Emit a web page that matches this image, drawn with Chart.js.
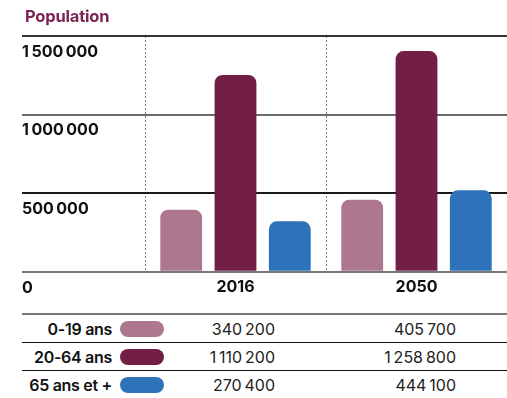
<!DOCTYPE html>
<html>
<head>
<meta charset="utf-8">
<script src="https://cdn.jsdelivr.net/npm/chart.js@4"></script>
<style>
  html, body { margin: 0; padding: 0; background: #fff; }
  #wrap { position: relative; width: 507px; height: 398px; overflow: hidden; font-family: Inter, "Noto Sans", sans-serif; }
  #title { position: absolute; left: 25px; top: 6px; font-size: 16.5px; font-weight: 700; color: #7b2453; letter-spacing: -0.2px; }
  #cv { position: absolute; left: 0; top: 0; }
  #tbl { position: absolute; left: 22px; top: 313px; width: 485px; }
  .row { position: relative; height: 27px; border-top: 1.5px solid #111; }
  .row.first { border-top: 2px solid #777; }
  .row.last { border-bottom: 2px solid #ccc; }
  .lab { position: absolute; left: 0; width: 90px; text-align: right; top: 4px; font-size: 16px; font-weight: 600; color: #111; letter-spacing: -0.3px; }
  .pill { position: absolute; left: 98px; top: 6px; width: 44px; height: 16px; border-radius: 8px; }
  .val { position: absolute; width: 140px; text-align: right; top: 4px; font-size: 16px; font-weight: 400; color: #222; letter-spacing: -0.3px; }
</style>
</head>
<body>
<div id="wrap">
  <canvas id="cv" width="507" height="307"></canvas>
  <div id="title">Population</div>
  <div id="tbl"></div>
</div>
<script>
// ---- data ----
const categories = ['2016', '2050'];
const groupLabels = ['0-19 ans', '20-64 ans', '65 ans et +'];
const groupColors = ['#ad788f', '#731f45', '#2e73b9'];
// bar heights as drawn in the picture (read against the axis)
const barYoung  = [395000, 459000];
const barAdult  = [1252000, 1404000];
const barSenior = [321000, 518000];
// values printed in the table
const tableYoung  = [340200, 405700];
const tableAdult  = [1110200, 1258800];
const tableSenior = [270400, 444100];
const yTicks = [0, 500000, 1000000, 1500000];

const fmt = v => String(v).replace(/\B(?=(\d{3})+(?!\d))/g, '\u202f');

const barSeries = [barYoung, barAdult, barSenior];
const tableSeries = [tableYoung, tableAdult, tableSenior];

// ---- table ----
const tbl = document.getElementById('tbl');
groupLabels.forEach((g, i) => {
  const row = document.createElement('div');
  row.className = 'row' + (i === 0 ? ' first' : '') + (i === groupLabels.length - 1 ? ' last' : '');
  const lab = document.createElement('div');
  lab.className = 'lab'; lab.textContent = g; row.appendChild(lab);
  const pill = document.createElement('div');
  pill.className = 'pill'; pill.style.background = groupColors[i]; row.appendChild(pill);
  const rights = [253, 434];
  tableSeries[i].forEach((v, j) => {
    const d = document.createElement('div');
    d.className = 'val'; d.textContent = fmt(v);
    d.style.left = (rights[j] - 140) + 'px';
    row.appendChild(d);
  });
  tbl.appendChild(row);
});

// ---- chart ----
const gridColors = { 0: '#777', 500000: '#1a1a1a', 1000000: '#6a6a6a', 1500000: '#333' };

new Chart(document.getElementById('cv'), {
  type: 'bar',
  data: {
    labels: categories,
    datasets: groupLabels.map((g, i) => ({
      label: g,
      data: barSeries[i],
      backgroundColor: groupColors[i],
      borderRadius: 8,
      barPercentage: 0.77,
      categoryPercentage: 0.9
    }))
  },
  options: {
    responsive: false,
    animation: false,
    layout: { padding: { left: 22, right: 0, top: 36, bottom: 4 } },
    plugins: { legend: { display: false }, title: { display: false }, tooltip: { enabled: false } },
    scales: {
      x: {
        offset: true,
        border: { display: false, dash: [2, 2] },
        grid: {
          offset: true,
          drawTicks: false,
          color: ctx => ctx.index >= categories.length ? 'rgba(0,0,0,0)' : '#7a7a7a',
          lineWidth: 1
        },
        ticks: {
          padding: 6,
          color: '#111',
          font: { family: 'Inter', size: 16, weight: '700' }
        }
      },
      y: {
        min: 0,
        max: 1500000,
        afterBuildTicks: s => { s.ticks = yTicks.map(v => ({ value: v })); },
        afterFit: s => { s.width = 123; },
        border: { display: false },
        grid: {
          drawTicks: true,
          tickLength: 123,
          color: ctx => gridColors[ctx.tick ? ctx.tick.value : 0] || '#555',
          tickColor: ctx => gridColors[ctx.tick ? ctx.tick.value : 0] || '#555',
          lineWidth: 2
        },
        ticks: {
          crossAlign: 'far',
          padding: 0,
          labelOffset: 16,
          color: '#111',
          font: { family: 'Inter', size: 16, weight: '700' },
          callback: v => fmt(v)
        }
      }
    }
  }
});
</script>
</body>
</html>
